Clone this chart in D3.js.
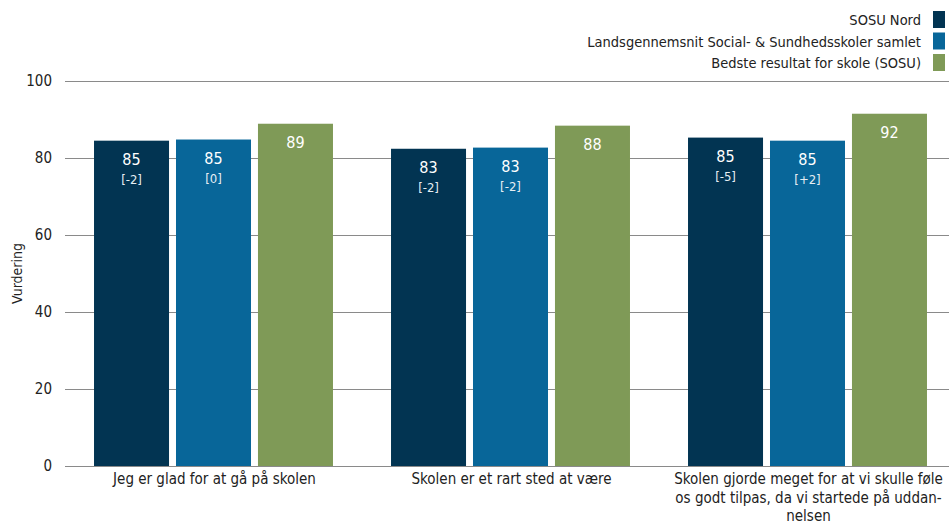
<!DOCTYPE html>
<html><head><meta charset="utf-8">
<script src="https://cdn.jsdelivr.net/npm/d3@7"></script>
<style>
html,body{margin:0;padding:0;background:#fff;overflow:hidden}
text{font-family:"Liberation Sans",Arial,sans-serif}
</style></head>
<body><svg id="c" width="949" height="526"></svg>
<script>
const categories = [
  ["Jeg er glad for at gå på skolen"],
  ["Skolen er et rart sted at være"],
  ["Skolen gjorde meget for at vi skulle føle","os godt tilpas, da vi startede på uddan-","nelsen"]
];
const seriesNames = ["SOSU Nord","Landsgennemsnit Social- & Sundhedsskoler samlet","Bedste resultat for skole (SOSU)"];
const seriesColors = ["#023452","#086699","#7F9A57"];
const sosuNord = [84.5, 82.4, 85.3];
const landsgns = [84.8, 82.7, 84.5];
const bedste = [88.9, 88.4, 91.5];
const valueLabels = [["85","85","89"],["83","83","88"],["85","85","92"]];
const deltaLabels = [["[-2]","[0]",null],["[-2]","[-2]",null],["[-5]","[+2]",null]];
const yTicks = [0,20,40,60,80,100];

const svg = d3.select("#c");
const m = {left:65, right:-7, top:81, bottom:60};
const W = 949, H = 526;
const x0 = d3.scaleBand().domain(d3.range(categories.length)).range([m.left, W - m.right]).paddingInner(0).paddingOuter(0);
const x1 = d3.scaleBand().domain([0,1,2]).range([0, x0.bandwidth()]).paddingInner(0.085).paddingOuter(0.354);
const y = d3.scaleLinear().domain([0,100]).range([H - m.bottom, m.top]);

// grid
const gy = svg.append("g").attr("transform",`translate(${m.left},0)`)
  .call(d3.axisLeft(y).tickValues(yTicks).tickSize(-(W - m.left)).tickPadding(13));
gy.select(".domain").remove();
gy.selectAll(".tick line").attr("stroke","#8a8a8a").attr("stroke-width",1);
gy.selectAll(".tick text").attr("fill","#222").style("font-size","15px").style("font-family","'DejaVu Sans Condensed',sans-serif").attr("font-family",null);

// y title
svg.append("text").attr("transform",`translate(22,${y(50)}) rotate(-90)`).attr("text-anchor","middle")
  .attr("fill","#222").style("font-size","14px").style("font-family","'DejaVu Sans Condensed','DejaVu Sans',sans-serif").text("Vurdering");

const series = [sosuNord, landsgns, bedste];
categories.forEach((cat, ci) => {
  const g = svg.append("g").attr("transform",`translate(${x0(ci)},0)`);
  series.forEach((s, si) => {
    const bx = x1(si), bw = x1.bandwidth(), top = y(s[ci]);
    g.append("rect").attr("x",bx).attr("y",top).attr("width",bw).attr("height",y(0)-top).attr("fill",seriesColors[si]);
    g.append("text").attr("x",bx+bw/2).attr("y",top+24).attr("text-anchor","middle").attr("fill","#fff")
      .style("font-size","16px").style("font-family","'DejaVu Sans Condensed',sans-serif").text(valueLabels[ci][si]);
    if (deltaLabels[ci][si]) g.append("text").attr("x",bx+bw/2).attr("y",top+43).attr("text-anchor","middle").attr("fill","#e6eef3")
      .style("font-size","13px").style("font-family","'DejaVu Sans Condensed',sans-serif").text(deltaLabels[ci][si]);
  });
  const t = svg.append("text").attr("text-anchor","middle").attr("fill","#222")
    .style("font-size","15px").style("font-family","'Liberation Sans Narrow','DejaVu Sans Condensed',sans-serif");
  cat.forEach((line, li) => t.append("tspan").attr("x", x0(ci)+x0.bandwidth()/2 + 1).attr("y", 484 + li*18.5).text(line));
});

// legend
const lg = svg.append("g");
seriesNames.forEach((n, i) => {
  const yy = 11 + i*21.5;
  lg.append("rect").attr("x",933).attr("y",yy).attr("width",12).attr("height",17).attr("fill",seriesColors[i]);
  lg.append("text").attr("x",921).attr("y",yy+14).attr("text-anchor","end").attr("fill","#222")
    .style("font-size","14.5px").style("font-family","'DejaVu Sans Condensed',sans-serif").text(n);
});
</script></body></html>
